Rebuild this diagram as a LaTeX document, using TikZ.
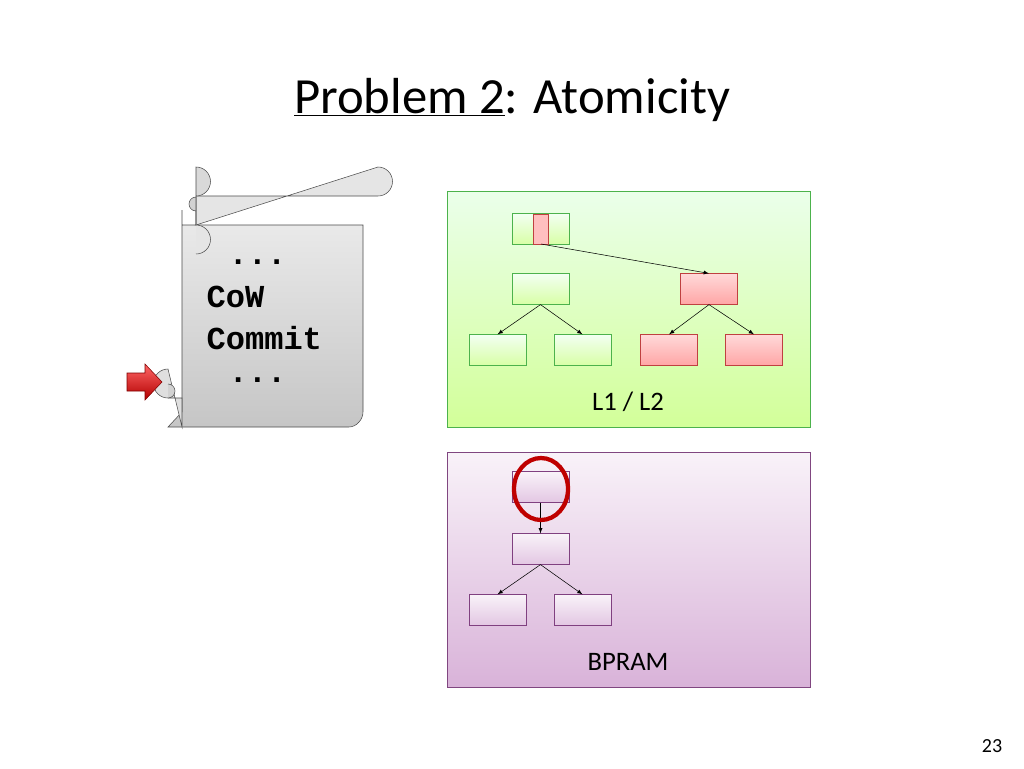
\documentclass[tikz,border=0pt]{standalone}
\usepackage{fontspec}
\setmainfont{Carlito}
\newfontfamily\monof{Liberation Mono}
\begin{document}
\begin{tikzpicture}[x=0.75pt,y=-0.75pt,
  gbox/.style={draw=green!40!gray,top color=green!8,bottom color=green!25!lime!40},
  pbox/.style={draw=violet!45!gray,top color=violet!5,bottom color=violet!30},
  gn/.style={draw=green!40!gray,top color=green!5,bottom color=green!25!lime!35,minimum width=43pt,minimum height=23pt,inner sep=0pt},
  rn/.style={draw=red!50!gray,top color=red!15,bottom color=red!35,minimum width=43pt,minimum height=23pt,inner sep=0pt},
  pn/.style={draw=violet!50!gray,top color=violet!5,bottom color=violet!22,minimum width=43pt,minimum height=23pt,inner sep=0pt},
  ar/.style={-latex,thin}]
\useasboundingbox (0,0) rectangle (1024,768);
\fill[white] (0,0) rectangle (1024,768);
% title
\node (title) at (512,100) {\fontsize{38}{44}\selectfont\underline{Problem 2}: Atomicity};
\node (pg) at (992,746) {\fontsize{15}{18}\selectfont 23};
% scroll
\draw[gray!60!black,top color=gray!15,bottom color=gray!45] (182,210) -- (182,412) -- (168,427) -- (349,427) .. controls (356,427) and (363,420) .. (363,412) -- (363,225) -- (182,225);
\draw[gray!60!black,fill=gray!20] (196,196) -- (378,196) arc[start angle=90,end angle=-90,radius=14.5] -- (196,225) arc[start angle=-90,end angle=90,radius=14.5];
\draw[gray!60!black,fill=gray!30] (196,196) arc[start angle=90,end angle=-90,radius=14.5] -- (196,225);
\draw[gray!60!black,fill=gray!35] (196,211) arc[start angle=90,end angle=270,radius=7] -- (196,225);
\draw[gray!60!black,fill=gray!25] (168,398) arc[start angle=90,end angle=270,radius=14.5] -- (182,427) -- (182,398) -- cycle;
\draw[gray!60!black,fill=gray!35] (168,398) arc[start angle=90,end angle=-90,radius=7] ;
\node[anchor=west,font=\monof\bfseries\fontsize{24}{28}\selectfont] (t1) at (224,262) {...};
\node[anchor=west,font=\monof\bfseries\fontsize{24}{28}\selectfont] (t2) at (202,297) {CoW};
\node[anchor=west,font=\monof\bfseries\fontsize{24}{28}\selectfont] (t3) at (202,338) {Commit};
\node[anchor=west,font=\monof\bfseries\fontsize{24}{28}\selectfont] (t4) at (224,380) {...};
% red arrow
\draw[red!50!black,top color=red!60,bottom color=red!70!black] (127,373) -- (145,373) -- (145,364) -- (162,382) -- (145,400) -- (145,391) -- (127,391) -- cycle;
% green box
\draw[gbox] (447,191) rectangle (810,427);
\node[gn,minimum width=43pt] (r) at (540.5,229) {};
\fill[red!25,draw=red!50!gray] (533,214) rectangle (548,244);
\node[gn] (a) at (540.5,289) {};
\node[gn] (a1) at (497.5,350) {};
\node[gn] (a2) at (582.5,350) {};
\node[rn] (b) at (709,289) {};
\node[rn] (b1) at (669,350) {};
\node[rn] (b2) at (754,350) {};
\coordinate (rp) at (541,244);
\draw[ar] (541,244) -- (b.north);
\draw[ar] (a.south) -- (a1.north);
\draw[ar] (a.south) -- (a2.north);
\draw[ar] (b.south) -- (b1.north);
\draw[ar] (b.south) -- (b2.north);
\node (l1) at (628,402) {\fontsize{20}{24}\selectfont L1 / L2};
% purple box
\draw[pbox] (447,452) rectangle (810,687);
\node[pn] (p) at (540.5,487) {};
\node[pn] (q) at (540.5,549) {};
\node[pn] (q1) at (497.5,610) {};
\node[pn] (q2) at (582.5,610) {};
\draw[ar] (p.south) -- (q.north);
\draw[ar] (q.south) -- (q1.north);
\draw[ar] (q.south) -- (q2.north);
\draw[red!75!black,line width=3.2pt] (541,489) ellipse[x radius=27,y radius=31];
\node (bp) at (628,662) {\fontsize{20}{24}\selectfont BPRAM};
\end{tikzpicture}
\end{document}
